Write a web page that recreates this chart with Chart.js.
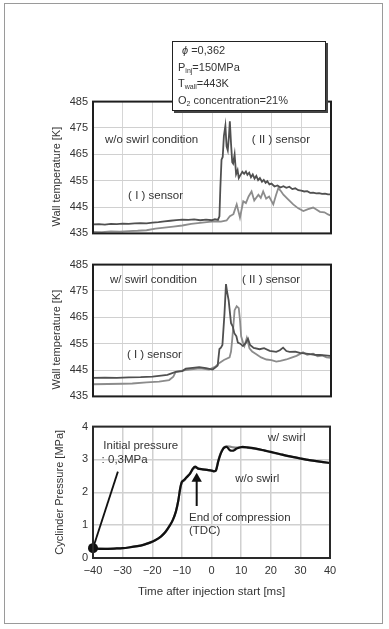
<!DOCTYPE html>
<html><head><meta charset="utf-8">
<script src="https://cdn.jsdelivr.net/npm/chart.js@4/dist/chart.umd.min.js"></script>
<style>
html,body{margin:0;padding:0;background:#fff;}
body{width:389px;height:629px;position:relative;overflow:hidden;font-family:"Liberation Sans",Arial,sans-serif;}
#frame{position:absolute;left:4px;top:3px;width:379px;height:621px;border:1px solid #9a9a9a;box-sizing:border-box;}
canvas{position:absolute;left:0;}
#c1{top:90px;} #c2{top:253px;} #c3{top:415px;}
#legendBox{position:absolute;left:172px;top:41px;width:154px;height:70px;box-sizing:border-box;border:1.5px solid #222;box-shadow:2px 2px 0 #444;background:#fff;z-index:5;font-size:11px;color:#333;padding:0 0 0 5px;}
#legendBox div{height:16.6px;line-height:16.6px;white-space:nowrap;}
#legendBox .sb{font-size:7px;line-height:0;vertical-align:-2px;}
</style></head>
<body>
<div id="frame"></div>
<canvas id="c1" width="389" height="155"></canvas>
<canvas id="c2" width="389" height="155"></canvas>
<canvas id="c3" width="389" height="200"></canvas>
<div id="legendBox">
<div style="padding-left:4px"><i>ϕ</i> =0,362</div>
<div>P<span class="sb">inj</span>=150MPa</div>
<div>T<span class="sb">wall</span>=443K</div>
<div>O<span class="sb">2</span> concentration=21%</div>
</div>
<script>
// ---------- DATA ----------
// Panel 1: w/o swirl condition
const timeNoSwirlII = [-40,-38,-36,-34,-32,-30,-28,-26,-24,-22,-20,-18,-16,-14,-12,-10,-8,-6,-4,-2,0,1,2,2.5,2.8,3.2,3.6,4.0,4.5,4.9,5.3,5.7,6.0,6.4,6.8,7.1,7.6,8.1,8.6,9.0,9.6,10.2,10.8,11.4,11.9,12.5,13.1,13.7,14.3,14.9,15.5,16.1,16.8,17.4,18.0,18.6,19.3,20,21,22,23,24,25,26,27,28,29,30,31,32,33,34,35,36,37,38,39,40];
const tempNoSwirlII = [438.4,438.5,438.3,438.6,438.5,438.7,438.6,438.8,438.9,438.8,439.1,439.3,439.6,439.8,440.0,440.2,440.1,440.3,440.0,440.2,440.0,440.4,440.1,441.5,452,463,464,472,475.8,468,466.5,472,477.5,469,462,461.5,465,457.5,459,456,457.2,458.4,457.6,458.5,457.2,458,456.3,457.4,455.8,456.8,455.2,456.0,454.6,455.3,454.2,454.8,453.6,453.9,452.8,453.2,452.4,452.9,452.3,452.7,451.8,452.1,451.4,451.2,450.9,451.0,450.4,450.5,450.2,450.3,450.0,450.1,449.8,449.8];
const timeNoSwirlI = [-40,-37,-34,-31,-28,-25,-22,-19,-16,-13,-10,-7,-4,-1,1,3,4.9,6,7.2,8.3,9.4,10.5,11.4,12.3,13.3,14.2,15.6,16.4,17.2,18.2,19.2,20.6,21.5,22.3,23.2,24,25.5,27.3,29,30.7,32.3,34,35.2,36.3,37.8,39,40];
const tempNoSwirlI = [435.6,435.5,435.8,435.7,435.9,436.0,436.2,436.8,437.2,437.6,438.0,438.6,439.0,439.4,439.6,439.5,439.9,441.5,442.3,446.0,441.0,447.2,446.5,449.0,450.9,447.5,449.7,448.5,450.9,448.2,449.0,446.0,449.5,452.2,451.0,449.7,448.0,446.0,444.5,443.5,444.2,444.8,444.0,443.2,443.0,442.2,441.7];

// Panel 2: w/ swirl condition
const timeSwirlII = [-40,-36,-32,-28,-24,-20,-17.8,-15,-12.2,-10,-8.8,-6.5,-4.3,-2,0.2,1.2,1.9,2.5,3,3.5,4.2,4.7,5.1,5.6,6.4,7,7.5,8.2,8.7,9.5,10.4,11.3,12.1,12.8,14,16,17.5,19.4,21.6,22.8,23.9,25,26.1,28,29.5,31,32.9,34.5,36.3,38,39.7,40];
const tempSwirlII = [442.0,442.1,442.0,442.2,442.3,442.5,442.8,443.2,444.3,444.6,445.5,445.8,446.1,445.7,445.2,446.0,446.7,453.0,453.5,454.5,466.5,477.6,474.5,471.4,462.8,461.5,459.0,457.8,455.4,455.0,454.1,455.2,456.9,454.5,453.4,452.9,453.3,452.3,451.9,452.5,453.5,452.2,451.9,452.0,451.5,451.3,451.0,450.8,450.7,450.6,450.4,450.3];
const timeSwirlI = [-40,-35,-30,-26.8,-22,-17.8,-14.4,-13,-12.2,-10,-7,-4,-1,1,2.5,4,5.9,6.4,6.8,7.2,7.6,8.3,9,9.4,9.8,10.4,10.9,11.7,12.6,13.5,14.9,16.5,18.3,20,21.6,23,25,26.5,28.4,30.6,32,34,35.5,37,38.5,40];
const tempSwirlI = [439.6,439.7,439.8,439.9,440.3,440.6,441.2,442.5,444.3,444.8,445.3,445.6,445.2,446.2,447.7,448.8,449.8,452.0,456.6,462.0,467.7,469.2,468.5,464.0,457.8,455.5,454.1,457.2,453.2,452.0,451.0,449.8,449.0,448.8,448.2,448.5,449.0,449.6,450.4,451.7,450.8,451.2,450.2,450.5,449.8,449.6];

// Panel 3: cylinder pressure
const timeP = [-40,-38,-35,-32,-30,-28,-25,-23,-21,-19,-17,-15.5,-14,-13,-12,-11.2,-10.6,-10,-9.2,-8.5,-7.3,-6.3,-5.5,-4.5,-3,-1.5,0,0.8,1.5,2.3,3,3.5,4.2,5.2,6.2,7.4,8.5,10.2,12,15,18,20,23.2,26,30,33,36,39.4,40];
const pressNoSwirl = [0.30,0.28,0.28,0.29,0.30,0.32,0.36,0.40,0.46,0.54,0.66,0.80,1.00,1.17,1.42,1.75,2.10,2.32,2.38,2.45,2.56,2.72,2.78,2.72,2.70,2.68,2.66,2.64,2.66,2.95,3.15,3.25,3.35,3.38,3.28,3.27,3.33,3.38,3.37,3.33,3.27,3.23,3.16,3.10,3.03,2.98,2.94,2.90,2.89];
const pressSwirl = [0.30,0.29,0.28,0.29,0.30,0.32,0.36,0.40,0.46,0.54,0.66,0.80,1.00,1.17,1.42,1.75,2.10,2.30,2.36,2.44,2.56,2.70,2.76,2.72,2.70,2.68,2.66,2.64,2.67,2.97,3.17,3.27,3.37,3.40,3.39,3.37,3.36,3.37,3.36,3.32,3.27,3.22,3.16,3.10,3.03,2.98,2.94,2.90,2.89];
const initPressT = [-40, -31.6];
const initPressP = [0.3, 2.63];
const tdcArrowT = [-5, -5];
const tdcArrowP = [1.58, 2.41];

const xTicks = [-40,-30,-20,-10,0,10,20,30,40];
const tempTicks = [435,445,455,465,475,485];
const pressTicks = [0,1,2,3,4];

// ---------- HELPERS ----------
const pts = (xs, ys) => xs.map((x, i) => ({x, y: ys[i]}));
const TXT = '#333';
const FONT = '"Liberation Sans", Arial, sans-serif';
Chart.defaults.font.family = FONT;
Chart.defaults.color = TXT;

const framePlugin = {
  id: 'frameBox',
  afterDraw(chart, args, o) {
    const {ctx, chartArea: a} = chart;
    ctx.save(); ctx.strokeStyle = o.color || '#222'; ctx.lineWidth = o.width || 2;
    ctx.strokeRect(a.left, a.top, a.right - a.left, a.bottom - a.top);
    ctx.restore();
  }
};
const notesPlugin = {
  id: 'notes',
  afterDatasetsDraw(chart, args, o) {
    const {ctx} = chart;
    ctx.save();
    ctx.font = (o.size || 11.5) + 'px ' + FONT;
    ctx.fillStyle = TXT; ctx.textAlign = 'left'; ctx.textBaseline = 'middle';
    (o.items || []).forEach(n => {
      ctx.fillText(n.text, chart.scales.x.getPixelForValue(n.t), chart.scales.y.getPixelForValue(n.v));
    });
    ctx.restore();
  }
};

function xScale(showLabels) {
  return {
    type: 'linear', min: -40, max: 40,
    afterBuildTicks: s => { s.ticks = xTicks.map(v => ({value: v})); },
    ticks: {display: showLabels, padding: 6, font: {size: 11}, color: TXT,
      callback: v => v < 0 ? '\u2212' + Math.abs(v) : String(v)},
    grid: {color: showLabels ? '#d0d0d0' : '#d6d6d6', lineWidth: showLabels ? 1.5 : 1, drawTicks: false},
    border: {display: false},
    title: showLabels ? {display: true, text: 'Time after injection start [ms]', font: {size: 11.5}, color: TXT, padding: {top: 0, bottom: 11}} : {display: false},
    afterFit: s => { s.height = showLabels ? 52 : 0; }
  };
}
function yScale(min, max, ticks, title, titlePad, gridW) {
  return {
    type: 'linear', min, max,
    afterBuildTicks: s => { s.ticks = ticks.map(v => ({value: v})); },
    ticks: {padding: 5, font: {size: 11}, color: TXT},
    grid: {color: '#d0d0d0', lineWidth: gridW, drawTicks: false},
    border: {display: false},
    title: {display: true, text: title, font: {size: 11}, color: TXT, padding: {top: titlePad, bottom: 0}},
    afterFit: s => { s.width = 93; }
  };
}
const lineDs = (label, xs, ys, color, w, extra) => Object.assign({
  label, data: pts(xs, ys), borderColor: color, backgroundColor: color, borderWidth: w,
  pointRadius: 0, tension: 0, fill: false
}, extra || {});

function tempChart(id, dsII, dsI, notes) {
  return new Chart(document.getElementById(id), {
    type: 'line',
    data: {datasets: [dsII, dsI]},
    options: {
      responsive: false, animation: false, devicePixelRatio: 1,
      layout: {padding: {left: 0, right: 58, top: 10, bottom: 10}},
      plugins: {legend: {display: false}, tooltip: {enabled: false},
        frameBox: {color: '#1e1e1e', width: 2}, notes: {items: notes, size: 11.5}},
      scales: {x: xScale(false), y: yScale(435, 485, tempTicks, 'Wall temperature [K]\u00a0\u00a0\u00a0\u00a0\u00a0\u00a0', 50, 1)}
    },
    plugins: [framePlugin, notesPlugin]
  });
}

tempChart('c1',
  lineDs('(II) sensor', timeNoSwirlII, tempNoSwirlII, '#505050', 1.8),
  lineDs('(I) sensor', timeNoSwirlI, tempNoSwirlI, '#8c8c8c', 1.8),
  [{text: 'w/o swirl condition', t: -36, v: 470.6},
   {text: '( II ) sensor', t: 13.4, v: 470.6},
   {text: '( I ) sensor', t: -28.2, v: 449.4}]);

tempChart('c2',
  lineDs('(II) sensor', timeSwirlII, tempSwirlII, '#505050', 1.8),
  lineDs('(I) sensor', timeSwirlI, tempSwirlI, '#8c8c8c', 1.8),
  [{text: 'w/ swirl condition', t: -34.3, v: 479.4},
   {text: '( II ) sensor', t: 10.1, v: 479.4},
   {text: '( I ) sensor', t: -28.6, v: 450.9}]);

new Chart(document.getElementById('c3'), {
  type: 'line',
  data: {datasets: [
    lineDs('w/o swirl', timeP, pressNoSwirl, '#111', 2.2, {tension: 0.25, order: 1}),
    lineDs('w/ swirl', timeP, pressSwirl, '#8a8a8a', 2.2, {tension: 0.25, order: 2}),
    lineDs('initial', initPressT, initPressP, '#111', 1.8, {order: 0}),
    lineDs('tdc', tdcArrowT, tdcArrowP, '#111', 2, {order: 0, pointRadius: [0, 6], pointStyle: 'triangle', pointBorderWidth: 0}),
    lineDs('start', [initPressT[0]], [initPressP[0]], '#111', 0, {order: 0, pointRadius: 5, clip: false, showLine: false})
  ]},
  options: {
    responsive: false, animation: false, devicePixelRatio: 1,
    layout: {padding: {left: 0, right: 59, top: 10, bottom: 5}},
    plugins: {legend: {display: false}, tooltip: {enabled: false},
      frameBox: {color: '#2a2a2a', width: 2},
      notes: {size: 11.5, items: [
        {text: 'Initial pressure', t: -36.5, v: 3.40},
        {text: ': 0,3MPa', t: -37.1, v: 2.98},
        {text: 'End of compression', t: -7.6, v: 1.22},
        {text: '(TDC)', t: -7.6, v: 0.83},
        {text: 'w/ swirl', t: 19.0, v: 3.65},
        {text: 'w/o swirl', t: 8.0, v: 2.42}
      ]}},
    scales: {x: xScale(true), y: yScale(0, 4, pressTicks, 'Cyclinder Pressure [MPa]', 53, 1.5)}
  },
  plugins: [framePlugin, notesPlugin]
});
</script>
</body></html>
